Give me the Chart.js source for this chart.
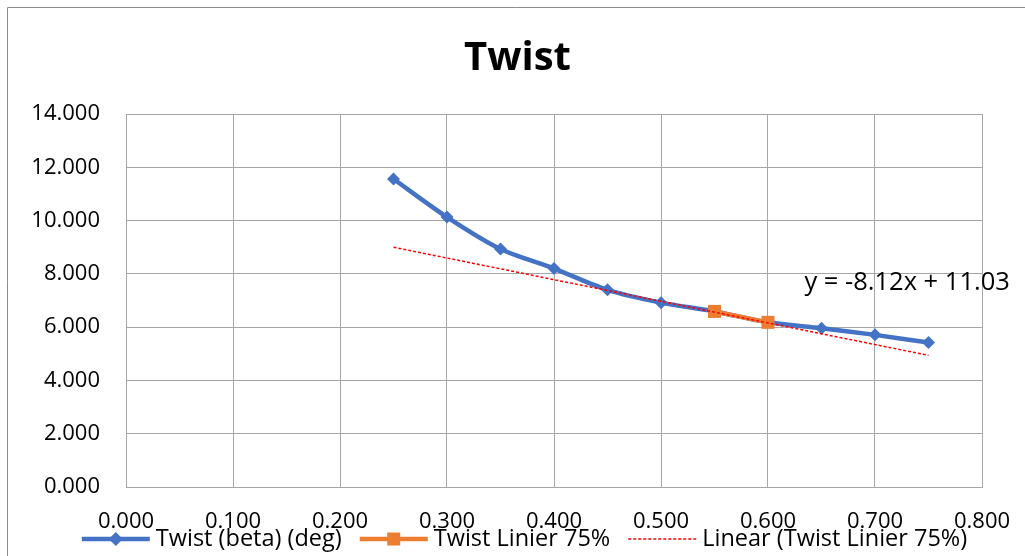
<!DOCTYPE html>
<html>
<head>
<meta charset="UTF-8">
<title>Twist</title>
<script src="https://cdn.jsdelivr.net/npm/chart.js"></script>
<style>
  html, body { margin: 0; padding: 0; background: #fff; overflow: hidden; }
  #wrap { position: relative; width: 1025px; height: 556px; }
</style>
</head>
<body>
<div id="wrap"><canvas id="twistChart"></canvas></div>
<script>
  // values
  const twistX = [0.25, 0.30, 0.35, 0.40, 0.45, 0.50, 0.55, 0.60, 0.65, 0.70, 0.75];
  const twistY = [11.56, 10.13, 8.93, 8.20, 7.40, 6.92, 6.59, 6.18, 5.96, 5.71, 5.42];
  const linierX = [0.55, 0.60];
  const linierY = [6.59, 6.18];
  const trendX = [0.25, 0.75];
  const trendY = [9.00, 4.94];
  const trendText = 'y = -8.12x + 11.03';
  const names = ['Twist (beta) (deg)', 'Twist Linier 75%', 'Linear (Twist Linier 75%)'];

  const FONT = '"Open Sans", Calibri, sans-serif';
  const toXY = (xs, ys) => xs.map((x, i) => ({ x, y: ys[i] }));

  // outer frame + trendline equation + Excel-style legend
  const extras = {
    id: 'extras',
    beforeDraw(chart) {
      const ctx = chart.ctx;
      ctx.save();
      ctx.strokeStyle = '#8c8c8c';
      ctx.lineWidth = 1;
      ctx.beginPath();
      ctx.moveTo(7.5, chart.height);
      ctx.lineTo(7.5, 7.5);
      ctx.lineTo(chart.width, 7.5);
      ctx.stroke();
      ctx.restore();
    },
    afterDraw(chart) {
      const ctx = chart.ctx;
      const xs = chart.scales.x, ys = chart.scales.y;
      ctx.save();
      ctx.fillStyle = '#000';
      ctx.font = '25.5px ' + FONT;
      ctx.textAlign = 'left';
      ctx.textBaseline = 'middle';
      ctx.fillText(trendText, xs.getPixelForValue(0.634), ys.getPixelForValue(7.67));

      // legend
      ctx.font = '23.5px ' + FONT;
      const lineLen = 68, gapText = 6, gapItem = 18, ly = 539;
      const widths = names.map(n => ctx.measureText(n).width);
      const total = widths.reduce((a, w) => a + lineLen + gapText + w, 0) + gapItem * (names.length - 1);
      let x = 524.5 - total / 2;
      chart.data.datasets.forEach((ds, i) => {
        ctx.strokeStyle = ds.borderColor;
        ctx.lineWidth = ds.borderWidth;
        ctx.setLineDash(ds.borderDash || []);
        ctx.beginPath();
        ctx.moveTo(x, ly);
        ctx.lineTo(x + lineLen, ly);
        ctx.stroke();
        ctx.setLineDash([]);
        const cx = x + lineLen / 2;
        ctx.fillStyle = ds.pointBackgroundColor;
        if (ds.pointStyle === 'rectRot') {
          ctx.beginPath();
          ctx.moveTo(cx - 7, ly); ctx.lineTo(cx, ly - 7); ctx.lineTo(cx + 7, ly); ctx.lineTo(cx, ly + 7);
          ctx.closePath(); ctx.fill();
        } else if (ds.pointStyle === 'rect') {
          ctx.fillRect(cx - 6.5, ly - 6.5, 13, 13);
        }
        ctx.fillStyle = '#000';
        ctx.fillText(names[i], x + lineLen + gapText, ly);
        x += lineLen + gapText + widths[i] + gapItem;
      });
      ctx.restore();
    }
  };

  new Chart(document.getElementById('twistChart'), {
    type: 'scatter',
    data: {
      datasets: [
        {
          label: names[0],
          data: toXY(twistX, twistY),
          showLine: true,
          tension: 0.3,
          borderColor: '#4472C4',
          backgroundColor: '#4472C4',
          borderWidth: 4.5,
          pointStyle: 'rectRot',
          pointRadius: 6.5,
          pointBorderWidth: 0,
          pointBackgroundColor: '#4472C4',
          order: 3
        },
        {
          label: names[1],
          data: toXY(linierX, linierY),
          showLine: true,
          borderColor: '#ED7D31',
          backgroundColor: '#ED7D31',
          borderWidth: 4.5,
          pointStyle: 'rect',
          pointRadius: 9.2,
          pointBorderWidth: 0,
          pointBackgroundColor: '#ED7D31',
          order: 2
        },
        {
          label: names[2],
          data: toXY(trendX, trendY),
          showLine: true,
          borderColor: '#FF0000',
          borderWidth: 1.5,
          borderDash: [3, 2],
          pointRadius: 0,
          pointStyle: false,
          pointBackgroundColor: '#FF0000',
          order: 1
        }
      ]
    },
    options: {
      responsive: true,
      maintainAspectRatio: false,
      animation: false,
      layout: { padding: { left: 10, right: 0, top: 0, bottom: 20 } },
      plugins: {
        legend: { display: false },
        tooltip: { enabled: false },
        title: {
          display: true,
          text: 'Twist',
          color: '#000',
          font: { family: FONT, size: 40, weight: 'bold' },
          padding: { top: 35, bottom: 31 }
        }
      },
      scales: {
        x: {
          type: 'linear',
          min: 0, max: 0.8,
          afterFit(s) { s.height = 49; s.paddingLeft = 0; s.paddingRight = 43; },
          grid: { color: '#a6a6a6', drawTicks: false },
          border: { color: '#a6a6a6' },
          ticks: {
            stepSize: 0.1, padding: 22, color: '#000',
            font: { family: FONT, size: 22 },
            callback: v => v.toFixed(3)
          }
        },
        y: {
          min: 0, max: 14,
          afterFit(s) { s.width = 116; s.paddingTop = 0; s.paddingBottom = 0; },
          grid: { color: '#a6a6a6', drawTicks: false },
          border: { color: '#a6a6a6' },
          ticks: {
            stepSize: 2, padding: 26, color: '#000',
            font: { family: FONT, size: 22 },
            callback: v => v.toFixed(3)
          }
        }
      }
    },
    plugins: [extras]
  });
</script>
</body>
</html>
